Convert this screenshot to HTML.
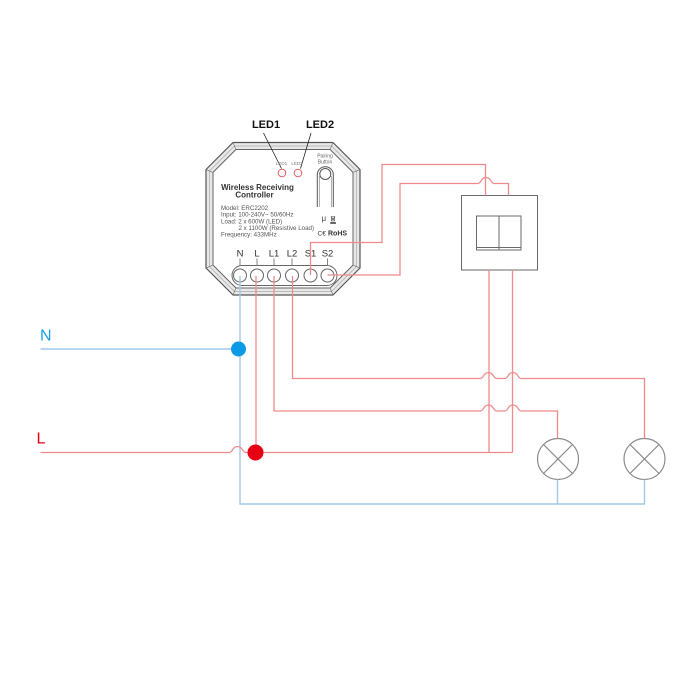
<!DOCTYPE html>
<html>
<head>
<meta charset="utf-8">
<style>
  html,body{margin:0;padding:0;background:#fff;}
  svg{display:block;}
  text{font-family:"Liberation Sans",Arial,sans-serif;}
</style>
</head>
<body>
<svg width="700" height="700" viewBox="0 0 700 700" xmlns="http://www.w3.org/2000/svg">
  <rect width="700" height="700" fill="#fff"/>

  <!-- Device body -->
  <polygon points="233,142.5 333,142.5 360,169.5 360,268 333,295 233,295 206,268 206,169.5" fill="#e8e8e8" stroke="#555" stroke-width="1.2" stroke-linejoin="round"/>
  <polygon points="234.45,146 331.55,146 356.5,170.95 356.5,266.55 331.55,291.5 234.45,291.5 209.5,266.55 209.5,170.95" fill="none" stroke="#aaa" stroke-width="0.7" stroke-linejoin="round"/>
  <polygon points="235.9,149.5 330.1,149.5 353,172.4 353,265.1 330.1,288 235.9,288 213,265.1 213,172.4" fill="#fff" stroke="#666" stroke-width="1" stroke-linejoin="round"/>
  <g stroke="#777" stroke-width="0.7">
    <line x1="233" y1="142.5" x2="235.9" y2="149.5"/>
    <line x1="206" y1="169.5" x2="213" y2="172.4"/>
    <line x1="333" y1="142.5" x2="330.1" y2="149.5"/>
    <line x1="360" y1="169.5" x2="353" y2="172.4"/>
    <line x1="360" y1="268" x2="353" y2="265.1"/>
    <line x1="333" y1="295" x2="330.1" y2="288"/>
    <line x1="233" y1="295" x2="235.9" y2="288"/>
    <line x1="206" y1="268" x2="213" y2="265.1"/>
  </g>

  <!-- LED labels and leaders -->
  <text x="266" y="128" font-size="11" font-weight="bold" text-anchor="middle" fill="#111">LED1</text>
  <text x="320" y="128" font-size="11" font-weight="bold" text-anchor="middle" fill="#111">LED2</text>
  <line x1="263.5" y1="133" x2="281.5" y2="168.5" stroke="#222" stroke-width="0.8"/>
  <line x1="311" y1="133" x2="300.5" y2="168.5" stroke="#222" stroke-width="0.8"/>
  <text x="281.5" y="165" font-size="4.5" text-anchor="middle" fill="#777">LED1</text>
  <text x="297" y="165" font-size="4.5" text-anchor="middle" fill="#777">LED2</text>
  <circle cx="282" cy="173" r="3.8" fill="#fff" stroke="#e06060" stroke-width="1"/>
  <circle cx="298" cy="173" r="3.8" fill="#fff" stroke="#e06060" stroke-width="1"/>

  <!-- Pairing button -->
  <text x="325" y="157.5" font-size="5" text-anchor="middle" fill="#666">Pairing</text>
  <text x="325" y="163.5" font-size="5" text-anchor="middle" fill="#666">Button</text>
  <path d="M317.3,207 V174.7 A8,8 0 0 1 333.3,174.7 V207" fill="none" stroke="#555" stroke-width="1"/>
  <path d="M319.3,207 V176 M331.3,207 V176" fill="none" stroke="#888" stroke-width="0.7"/>
  <circle cx="325.3" cy="174" r="5.5" fill="#fff" stroke="#555" stroke-width="1"/>

  <!-- Title -->
  <text x="257.5" y="190" font-size="8" font-weight="bold" text-anchor="middle" fill="#333">Wireless Receiving</text>
  <text x="254.5" y="197.5" font-size="8" font-weight="bold" text-anchor="middle" fill="#333">Controller</text>

  <!-- Spec text -->
  <g font-size="6.2" fill="#555" style="white-space:pre">
    <text x="221" y="210">Model: ERC2202</text>
    <text x="221" y="216.7">Input: 100-240V~  50/60Hz</text>
    <text x="221" y="223.3">Load: 2 x 600W (LED)</text>
    <text x="238.5" y="230">2 x 1100W (Resistive Load)</text>
    <text x="221" y="236.7">Frequency: 433MHz</text>
  </g>
  <text x="321.5" y="221" font-size="8" fill="#444">μ</text>
  <g stroke="#444" stroke-width="0.6" fill="none">
    <path d="M330.8,216.5 H335.2 M331.3,216.5 L331.8,221 H334.2 L334.7,216.5 M331,216.8 L335,221 M335,216.8 L331,221"/>
  </g>
  <rect x="330.3" y="222.3" width="5.6" height="1.4" fill="#222"/>
  <text x="317.5" y="235.7" font-size="6.5" fill="#333">C€</text>
  <text x="328" y="235.7" font-size="7" font-weight="bold" fill="#333">RoHS</text>

  <!-- Terminal labels -->
  <g font-size="9.5" fill="#333" text-anchor="middle">
    <text x="240" y="256.5">N</text>
    <text x="257" y="256.5">L</text>
    <text x="274" y="256.5">L1</text>
    <text x="292" y="256.5">L2</text>
    <text x="310.5" y="256.5">S1</text>
    <text x="327.5" y="256.5">S2</text>
  </g>
  <g stroke="#666" stroke-width="0.8">
    <line x1="240" y1="258.5" x2="240" y2="268"/>
    <line x1="257" y1="258.5" x2="257" y2="268"/>
    <line x1="274" y1="258.5" x2="274" y2="268"/>
    <line x1="292" y1="258.5" x2="292" y2="268"/>
    <line x1="310.5" y1="258.5" x2="310.5" y2="268"/>
    <line x1="327.5" y1="258.5" x2="327.5" y2="268"/>
  </g>
  <rect x="232" y="265.5" width="105" height="20" rx="10" fill="#fff" stroke="#666" stroke-width="1"/>
  <g fill="#fff" stroke="#666" stroke-width="1">
    <circle cx="240" cy="275.5" r="6.5"/>
    <circle cx="257" cy="275.5" r="6.5"/>
    <circle cx="274" cy="275.5" r="6.5"/>
    <circle cx="292" cy="275.5" r="6.5"/>
    <circle cx="310.5" cy="275.5" r="6.5"/>
    <circle cx="327.5" cy="275.5" r="6.5"/>
  </g>

  <!-- Switch -->
  <g fill="none" stroke="#6a6a6a" stroke-width="1">
    <rect x="461.5" y="195.5" width="76" height="74.5"/>
    <rect x="476.5" y="216" width="44.5" height="34"/>
    <line x1="499" y1="216" x2="499" y2="250"/>
    <line x1="476.5" y1="247.5" x2="521" y2="247.5"/>
  </g>

  <!-- Lamps -->
  <g fill="none" stroke="#8a8a8a" stroke-width="1.2">
    <circle cx="558" cy="459" r="20.5"/>
    <line x1="543.5" y1="444.5" x2="572.5" y2="473.5"/>
    <line x1="572.5" y1="444.5" x2="543.5" y2="473.5"/>
    <circle cx="644.5" cy="459" r="20.5"/>
    <line x1="630" y1="444.5" x2="659" y2="473.5"/>
    <line x1="659" y1="444.5" x2="630" y2="473.5"/>
  </g>

  <!-- Blue (neutral) wires -->
  <g fill="none" stroke="#a4c8e8" stroke-width="1.4">
    <path d="M40.5,349 H239.5"/>
    <path d="M240,276 V504 H645"/>
    <path d="M557.5,479.5 V504"/>
    <path d="M644.5,479.5 V504"/>
  </g>

  <!-- Red (live) wires -->
  <g fill="none" stroke="#f08a8a" stroke-width="1.3">
    <path d="M40.5,452.5 H229.5 C232.5,452.5 232.5,446.5 237.5,446.5 C242.5,446.5 242.5,452.5 245.5,452.5 H512.5"/>
    <path d="M256,276 V452.5"/>
    <path d="M489,270 V452.5"/>
    <path d="M512.5,270 V452.5"/>
    <path d="M310.5,275 V242.5 H382 V164.5 H485.5 V195.5"/>
    <path d="M327.5,275 H400 V183.5 H478 C481,183.5 481,177.5 486,177.5 C491,177.5 491,183.5 494,183.5 H508.5 V195.5"/>
    <path d="M292.5,276 V378.5 H480.5 C483.5,378.5 483.5,372.5 488.5,372.5 C493.5,372.5 493.5,378.5 496.5,378.5 H505 C508,378.5 508,372.5 513,372.5 C518,372.5 518,378.5 521,378.5 H644.5 V438.5"/>
    <path d="M274,276 V411 H480.5 C483.5,411 483.5,405 488.5,405 C493.5,405 493.5,411 496.5,411 H505 C508,411 508,405 513,405 C518,405 518,411 521,411 H557.5 V438.5"/>
  </g>

  <!-- Junction dots -->
  <circle cx="238.5" cy="349" r="7.5" fill="#0b9be6"/>
  <circle cx="255.5" cy="452.5" r="8" fill="#e60014"/>

  <!-- N / L labels -->
  <text x="40" y="340.5" font-size="16" fill="#1a9ee8">N</text>
  <text x="36.5" y="443.5" font-size="16" fill="#e60014">L</text>
</svg>
</body>
</html>
